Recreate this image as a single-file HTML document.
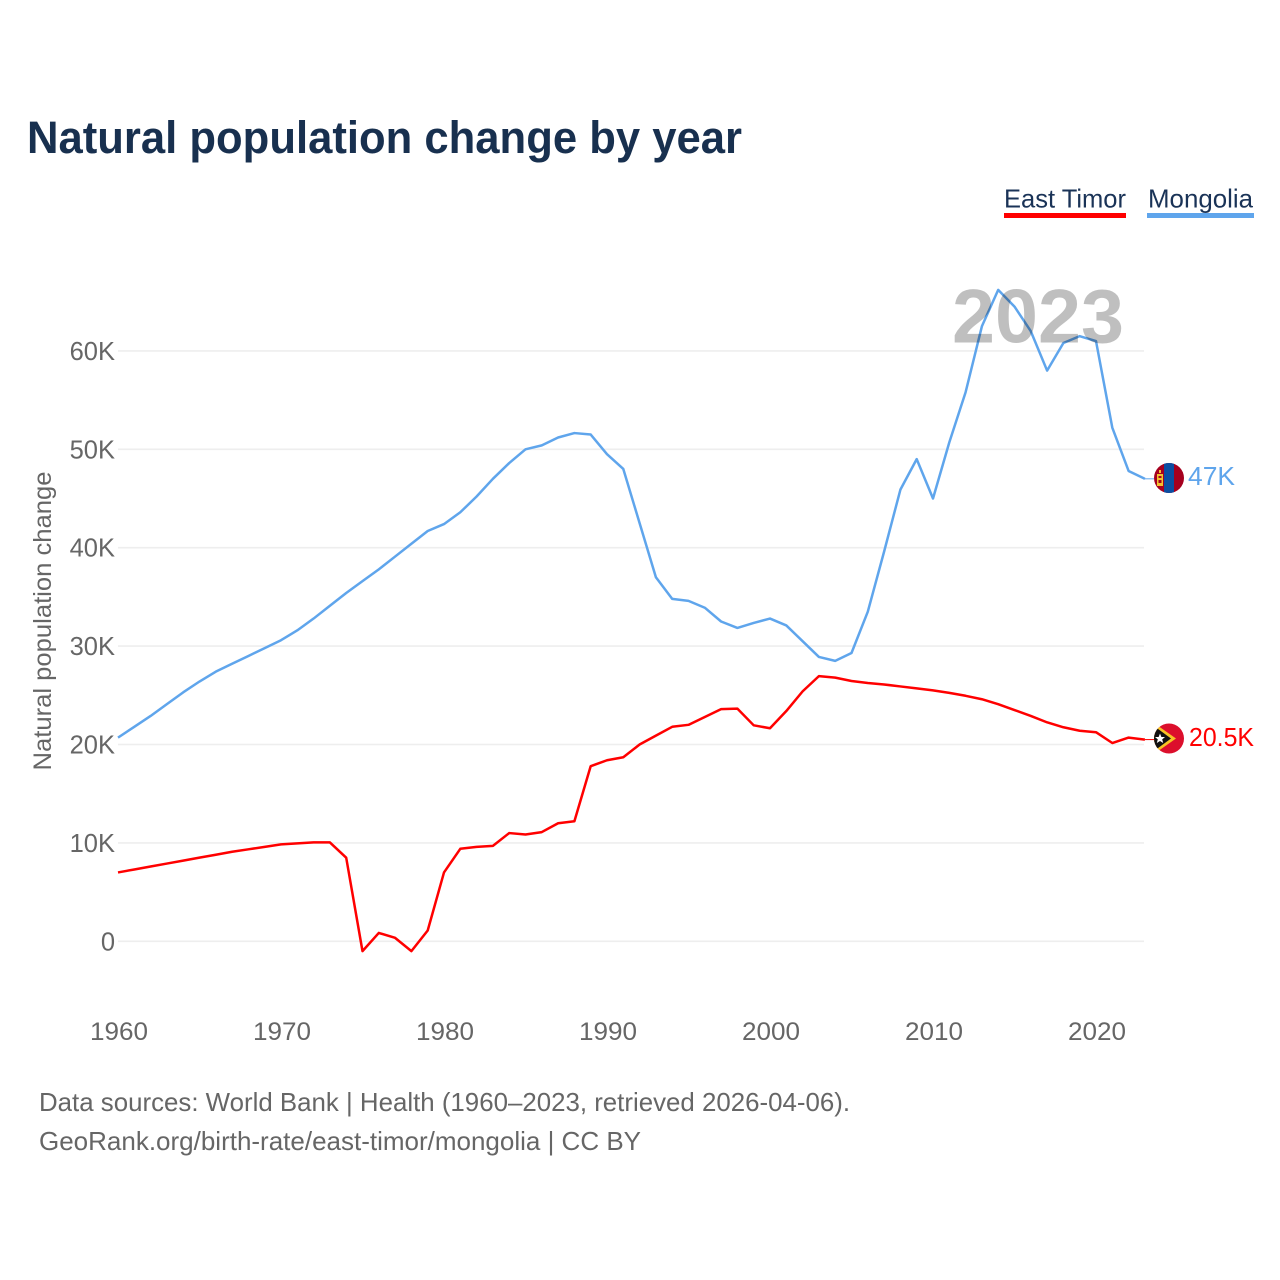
<!DOCTYPE html>
<html lang="en">
<head>
<meta charset="utf-8">
<title>Natural population change by year</title>
<style>
  html, body { margin: 0; padding: 0; background: #fff; }
  svg { display: block; }
  text { font-family: "Liberation Sans", sans-serif; }
</style>
</head>
<body>
<svg id="chart" xmlns="http://www.w3.org/2000/svg" width="1280" height="1280" viewBox="0 0 1280 1280">
  <defs>
    <clipPath id="flag-clip-mn"><circle cx="1169" cy="478" r="15"></circle></clipPath>
    <clipPath id="flag-clip-tl"><circle cx="1169" cy="738.5" r="15"></circle></clipPath>
  </defs>
  <rect width="1280" height="1280" fill="#fff"></rect>
  <text x="27" y="153" font-size="45" font-weight="700" fill="#18304f" textLength="715" lengthAdjust="spacingAndGlyphs">Natural population change by year</text>

  <g>
    <g>
      <text x="1004" y="207.5" font-size="26" fill="#1a3357" textLength="122" lengthAdjust="spacingAndGlyphs">East Timor</text>
      <rect x="1004" y="213" width="122" height="5" fill="#ff0000"></rect>
    </g>
    <g>
      <text x="1148" y="207.5" font-size="26" fill="#1a3357" textLength="105" lengthAdjust="spacingAndGlyphs">Mongolia</text>
      <rect x="1147" y="213" width="107" height="5" fill="#5fa5ec"></rect>
    </g>
  </g>

  <g id="grid"></g>
  <g id="y-ticks"></g>
  <g id="x-ticks"></g>
  <text transform="translate(51 621) rotate(-90)" text-anchor="middle" font-size="25" fill="#666" textLength="299" lengthAdjust="spacingAndGlyphs">Natural population change</text>

  <g id="series"></g>

  <text x="952" y="342.5" font-size="76" font-weight="700" fill="#000" fill-opacity="0.25" textLength="172" lengthAdjust="spacingAndGlyphs">2023</text>

  <g clip-path="url(#flag-clip-mn)">
    <rect x="1154" y="463" width="30" height="30" fill="#a6001f"></rect>
    <rect x="1164" y="463" width="10" height="30" fill="#0b4ea2"></rect>
    <rect x="1157" y="474" width="6" height="12" fill="#f2c230"></rect>
    <rect x="1158.5" y="476" width="3" height="2" fill="#a6001f"></rect>
    <rect x="1158.5" y="480" width="3" height="3" fill="#a6001f"></rect>
    <rect x="1159" y="470" width="2" height="3" fill="#f2c230"></rect>
  </g>
  <g clip-path="url(#flag-clip-tl)">
    <rect x="1154" y="723" width="30" height="31" fill="#dc0f2c"></rect>
    <polygon points="1154,723 1176,738.5 1154,754" fill="#f7c325"></polygon>
    <polygon points="1154,726 1171,738.5 1154,751" fill="#111"></polygon>
    <polygon points="1160,733.5 1161.4,737 1165,737 1162.2,739.4 1163.2,743 1160,741 1156.8,743 1157.8,739.4 1155,737 1158.6,737" fill="#fff"></polygon>
  </g>

  <text x="1188" y="485" font-size="26" fill="#5fa5ec" textLength="47" lengthAdjust="spacingAndGlyphs">47K</text>
  <text x="1189" y="746" font-size="26" fill="#ff0000" textLength="65" lengthAdjust="spacingAndGlyphs">20.5K</text>

  <text x="39" y="1111" font-size="26" fill="#666" textLength="811" lengthAdjust="spacingAndGlyphs">Data sources: World Bank | Health (1960–2023, retrieved 2026-04-06).</text>
  <text x="39" y="1150" font-size="26" fill="#666" textLength="602" lengthAdjust="spacingAndGlyphs">GeoRank.org/birth-rate/east-timor/mongolia | CC BY</text>
</svg>
<script>
const startYear = 1960;
const eastTimor = [7.0,7.3,7.6,7.9,8.2,8.5,8.8,9.1,9.35,9.6,9.85,9.95,10.05,10.05,8.5,-1.0,0.85,0.35,-1.0,1.1,7.0,9.4,9.6,9.7,11.0,10.85,11.1,12.0,12.2,17.8,18.4,18.7,20.0,20.9,21.8,22.0,22.8,23.6,23.65,21.95,21.65,23.4,25.4,26.95,26.8,26.45,26.25,26.1,25.9,25.7,25.5,25.25,24.95,24.6,24.1,23.5,22.9,22.25,21.75,21.4,21.25,20.15,20.7,20.5];
const mongolia = [20.7,21.8,22.9,24.1,25.3,26.4,27.4,28.2,29.0,29.8,30.6,31.6,32.8,34.1,35.4,36.6,37.8,39.1,40.4,41.7,42.4,43.6,45.2,47.0,48.6,50.0,50.4,51.2,51.65,51.5,49.5,48.0,42.5,37.0,34.8,34.6,33.9,32.5,31.85,32.35,32.8,32.1,30.5,28.9,28.5,29.3,33.5,39.6,45.9,49.0,45.0,50.7,55.8,62.5,66.2,64.5,62.0,58.0,60.8,61.5,61.0,52.2,47.8,47.0];
const yTickValues = [0,10,20,30,40,50,60];
const yTickLabels = ["0","10K","20K","30K","40K","50K","60K"];
const xTickValues = [1960,1970,1980,1990,2000,2010,2020];
const xTickLabels = ["1960","1970","1980","1990","2000","2010","2020"];

const NS = "http://www.w3.org/2000/svg";
function xScale(year) { return 118 + (year - 1960) * 16.3; }
function yScale(value) { return 941.3 - value * 9.84; }

const gridGroup = document.getElementById("grid");
const yTickGroup = document.getElementById("y-ticks");
const xTickGroup = document.getElementById("x-ticks");
const seriesGroup = document.getElementById("series");

yTickValues.forEach(function (v, i) {
  const line = document.createElementNS(NS, "line");
  
  
  line.setAttribute("x1", 118);
  line.setAttribute("x2", 1144);
  line.setAttribute("y1", yScale(v));
  line.setAttribute("y2", yScale(v));
  line.setAttribute("stroke", "#eeeeee");
  line.setAttribute("stroke-width", "1.6");
  gridGroup.appendChild(line);

  const label = document.createElementNS(NS, "text");
  
  
  label.setAttribute("x", 115);
  label.setAttribute("y", yScale(v) + 9);
  label.setAttribute("text-anchor", "end");
  label.setAttribute("font-size", "25.5");
  label.setAttribute("fill", "#666");
  label.textContent = yTickLabels[i];
  yTickGroup.appendChild(label);
});

xTickValues.forEach(function (v, i) {
  const label = document.createElementNS(NS, "text");
  
  
  label.setAttribute("x", xScale(v) + 1);
  label.setAttribute("y", 1040);
  label.setAttribute("text-anchor", "middle");
  label.setAttribute("font-size", "25");
  label.setAttribute("fill", "#666");
  label.setAttribute("textLength", "58");
  label.setAttribute("lengthAdjust", "spacingAndGlyphs");
  label.textContent = xTickLabels[i];
  xTickGroup.appendChild(label);
});

function pointsFor(values) {
  return values.map(function (v, i) {
    return xScale(startYear + i).toFixed(2) + "," + yScale(v).toFixed(2);
  }).join(" ");
}

const mongoliaLine = document.createElementNS(NS, "polyline");


mongoliaLine.setAttribute("points", pointsFor(mongolia));
mongoliaLine.setAttribute("fill", "none");
mongoliaLine.setAttribute("stroke", "#5fa5ec");
mongoliaLine.setAttribute("stroke-width", "2.5");
mongoliaLine.setAttribute("stroke-linejoin", "round");
seriesGroup.appendChild(mongoliaLine);

const eastTimorLine = document.createElementNS(NS, "polyline");


eastTimorLine.setAttribute("points", pointsFor(eastTimor));
eastTimorLine.setAttribute("fill", "none");
eastTimorLine.setAttribute("stroke", "#ff0000");
eastTimorLine.setAttribute("stroke-width", "2.5");
eastTimorLine.setAttribute("stroke-linejoin", "round");
seriesGroup.appendChild(eastTimorLine);

const lastMongolia = mongolia[mongolia.length - 1];
const connectorMongolia = document.createElementNS(NS, "line");


connectorMongolia.setAttribute("x1", xScale(2023));
connectorMongolia.setAttribute("x2", 1154);
connectorMongolia.setAttribute("y1", yScale(lastMongolia));
connectorMongolia.setAttribute("y2", yScale(lastMongolia));
connectorMongolia.setAttribute("stroke", "#5fa5ec");
connectorMongolia.setAttribute("stroke-width", "1");
seriesGroup.appendChild(connectorMongolia);

const lastEastTimor = eastTimor[eastTimor.length - 1];
const connectorEastTimor = document.createElementNS(NS, "line");


connectorEastTimor.setAttribute("x1", xScale(2023));
connectorEastTimor.setAttribute("x2", 1154);
connectorEastTimor.setAttribute("y1", yScale(lastEastTimor));
connectorEastTimor.setAttribute("y2", yScale(lastEastTimor));
connectorEastTimor.setAttribute("stroke", "#ff0000");
connectorEastTimor.setAttribute("stroke-width", "1");
seriesGroup.appendChild(connectorEastTimor);
</script>
</body>
</html>
